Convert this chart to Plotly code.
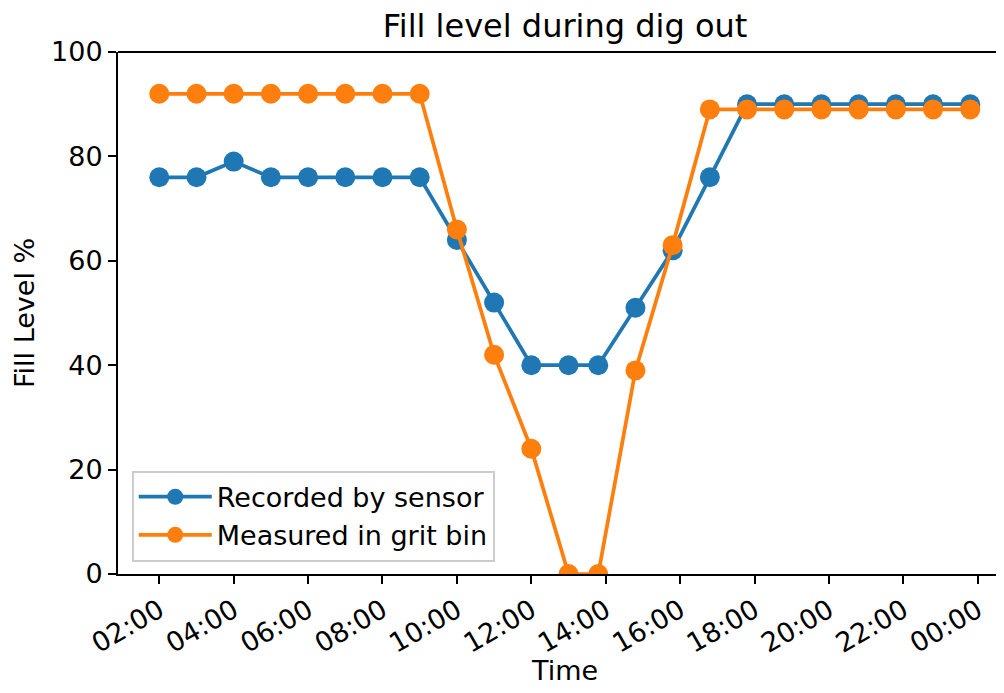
import plotly.graph_objects as go

times = [
    "2019-01-01 02:00", "2019-01-01 03:00", "2019-01-01 04:00", "2019-01-01 05:00",
    "2019-01-01 06:00", "2019-01-01 07:00", "2019-01-01 08:00", "2019-01-01 09:00",
    "2019-01-01 10:00", "2019-01-01 11:00", "2019-01-01 12:00", "2019-01-01 13:00",
    "2019-01-01 13:48", "2019-01-01 14:48", "2019-01-01 15:48", "2019-01-01 16:48",
    "2019-01-01 17:48", "2019-01-01 18:48", "2019-01-01 19:48", "2019-01-01 20:48",
    "2019-01-01 21:48", "2019-01-01 22:48", "2019-01-01 23:48",
]
sensor = [76, 76, 79, 76, 76, 76, 76, 76, 64, 52, 40, 40,
          40, 51, 62, 76, 90, 90, 90, 90, 90, 90, 90]
grit_bin = [92, 92, 92, 92, 92, 92, 92, 92, 66, 42, 24, 0,
            0, 39, 63, 89, 89, 89, 89, 89, 89, 89, 89]
tick_vals = ["2019-01-01 02:00", "2019-01-01 04:00", "2019-01-01 06:00", "2019-01-01 08:00",
             "2019-01-01 10:00", "2019-01-01 12:00", "2019-01-01 14:00", "2019-01-01 16:00",
             "2019-01-01 18:00", "2019-01-01 20:00", "2019-01-01 22:00", "2019-01-02 00:00"]
tick_text = ["02:00", "04:00", "06:00", "08:00", "10:00", "12:00",
             "14:00", "16:00", "18:00", "20:00", "22:00", "00:00"]

FONT = "DejaVu Sans"
FS = 27

fig = go.Figure()
fig.add_trace(go.Scatter(
    x=times, y=sensor, name="Recorded by sensor", mode="lines+markers",
    line=dict(color="#1f77b4", width=3.75),
    marker=dict(color="#1f77b4", size=20),
))
fig.add_trace(go.Scatter(
    x=times, y=grit_bin, name="Measured in grit bin", mode="lines+markers",
    line=dict(color="#ff7f0e", width=3.75),
    marker=dict(color="#ff7f0e", size=20),
))

fig.update_layout(
    width=996, height=677,
    margin=dict(l=110, r=0, t=44, b=111, autoexpand=False),
    paper_bgcolor="white", plot_bgcolor="white",
    font=dict(family=FONT, size=FS, color="black"),
    title=dict(text="Fill level during dig out", x=557/996, xanchor="center",
               xref="container",
               y=1 - 18/677, yanchor="middle", yref="container",
               font=dict(size=32, family=FONT, color="black")),
    showlegend=True,
    legend=dict(
        x=0.0155, y=0.0236, xanchor="left", yanchor="bottom",
        bgcolor="rgba(255,255,255,0.8)", bordercolor="#cccccc", borderwidth=2,
        font=dict(size=FS, family=FONT, color="black"),
        itemwidth=73,
    ),
    xaxis=dict(
        type="date", automargin=False,
        range=["2019-01-01 00:53:24", "2019-01-02 00:42:25"],
        tickvals=tick_vals, ticktext=tick_text, tickangle=-30,
        showgrid=False, zeroline=False,
        showline=True, linecolor="black", linewidth=2,
        ticks="outside", ticklen=8, tickwidth=2, tickcolor="black",
        tickfont=dict(size=FS, family=FONT, color="black"),
    ),
    yaxis=dict(
        range=[0, 100], tickvals=[0, 20, 40, 60, 80, 100], automargin=False,
        showgrid=False, zeroline=False,
        showline=True, linecolor="black", linewidth=2,
        ticks="outside", ticklen=8, tickwidth=2, tickcolor="black",
        tickfont=dict(size=FS, family=FONT, color="black"),
    ),
    annotations=[
        dict(text="Fill Level %", textangle=-90, xref="paper", yref="paper",
             x=0, y=0.5, xanchor="center", yanchor="middle", xshift=-94,
             showarrow=False, font=dict(size=FS, family=FONT, color="black")),
        dict(text="Time", xref="paper", yref="paper",
             x=0.5045, y=0, xanchor="center", yanchor="middle", yshift=-96,
             showarrow=False, font=dict(size=FS, family=FONT, color="black")),
    ],
    shapes=[dict(type="line", xref="paper", yref="paper", x0=0, x1=1, y0=1, y1=1,
                 line=dict(color="black", width=2))],
)

fig.write_html("out.html")
